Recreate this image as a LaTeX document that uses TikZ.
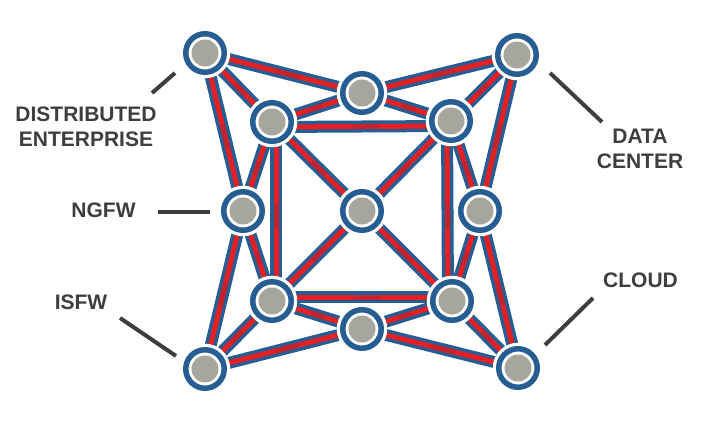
\documentclass[tikz,border=0pt]{standalone}
\usepackage{fontspec}
\setmainfont{Liberation Sans}
\usetikzlibrary{backgrounds,calc}
\definecolor{ringblue}{RGB}{38,94,148}
\definecolor{bandred}{RGB}{228,32,36}
\definecolor{banddark}{RGB}{196,34,44}
\definecolor{coregray}{RGB}{166,165,158}
\definecolor{labelgray}{RGB}{60,64,60}
\tikzset{
  hub/.style={circle, minimum size=38.5pt, inner sep=0pt, draw=ringblue, line width=5.5pt, fill=white,
    preaction={draw=white, line width=12pt},
    path picture={\fill[coregray] (path picture bounding box.center) circle (13.5pt);}},
  bandout/.style={draw=ringblue, line width=12pt},
  bandin/.style={draw=bandred, line width=5pt},
  banddk/.style={draw=banddark, line width=5pt},
  lbl/.style={font=\fontsize{21}{25.5}\selectfont\bfseries, text=labelgray, align=center, inner sep=0pt},
  tick/.style={draw=labelgray, line width=4pt}
}
\begin{document}
\begin{tikzpicture}[x=1pt,y=-1pt]
\useasboundingbox (0,0) rectangle (717,425);
% nodes
\node[hub] (TL) at (205,53) {};
\node[hub] (TM) at (362,93) {};
\node[hub] (TR) at (517,55) {};
\node[hub] (ITL) at (272,122) {};
\node[hub] (ITR) at (451,121) {};
\node[hub] (ML) at (243,211) {};
\node[hub] (C) at (362,211) {};
\node[hub] (MR) at (480,211) {};
\node[hub] (IBL) at (272,301) {};
\node[hub] (IBR) at (452,301) {};
\node[hub] (BM) at (362,329) {};
\node[hub] (BL) at (205,369) {};
\node[hub] (BR) at (518,368) {};
% edges
\begin{scope}[on background layer]
\foreach \a/\b in {TL/TM, TM/TR, TL/ITL, TL/ML, TM/ITL, TM/ITR, TR/ITR, TR/MR,
  ITL/ML, ITL/C, ITR/MR, ITR/C,
  ML/IBL, ML/BL, MR/IBR, MR/BR,
  IBL/C, IBR/C, IBL/BL, IBL/BM, IBR/BM, IBR/BR, BL/BM, BM/BR}{
  \path[bandout] (\a.center) -- (\b.center);
  \path[bandin] (\a.center) -- (\b.center);
  \path[banddk] ($(\a.center)!0.45!(\b.center)$) -- ($(\a.center)!0.6!(\b.center)$);
}
% inner square sides, set slightly inward
\foreach \a/\b/\dx/\dy in {ITL/IBL/4/0, ITR/IBR/-4/0, ITL/ITR/0/-5, IBL/IBR/0/4}{
  \path[bandout] ([shift={(\dx pt,\dy pt)}]\a.center) -- ([shift={(\dx pt,\dy pt)}]\b.center);
  \path[bandin] ([shift={(\dx pt,\dy pt)}]\a.center) -- ([shift={(\dx pt,\dy pt)}]\b.center);
  \path[banddk] ($([shift={(\dx pt,\dy pt)}]\a.center)!0.45!([shift={(\dx pt,\dy pt)}]\b.center)$)
     -- ($([shift={(\dx pt,\dy pt)}]\a.center)!0.6!([shift={(\dx pt,\dy pt)}]\b.center)$);
}
\end{scope}
% labels
\node[lbl] (dist) at (86,127) {DISTRIBUTED\\ENTERPRISE};
\node[lbl] (ngfw) at (103.5,210.5) {NGFW};
\node[lbl] (isfw) at (81,302) {ISFW};
\node[lbl] (dc) at (640,149) {DATA\\CENTER};
\node[lbl] (cloud) at (640.5,280.5) {CLOUD};
\coordinate (d1) at (152,93); \coordinate (d2) at (175,73);
\coordinate (n1) at (158,212); \coordinate (n2) at (210,212);
\coordinate (i1) at (120,318); \coordinate (i2) at (176,356);
\coordinate (c1) at (550,73); \coordinate (c2) at (602,122);
\coordinate (k1) at (593,298); \coordinate (k2) at (545,345);
\draw[tick] (d1) -- (d2);
\draw[tick] (n1) -- (n2);
\draw[tick] (i1) -- (i2);
\draw[tick] (c1) -- (c2);
\draw[tick] (k1) -- (k2);
\end{tikzpicture}
\end{document}
